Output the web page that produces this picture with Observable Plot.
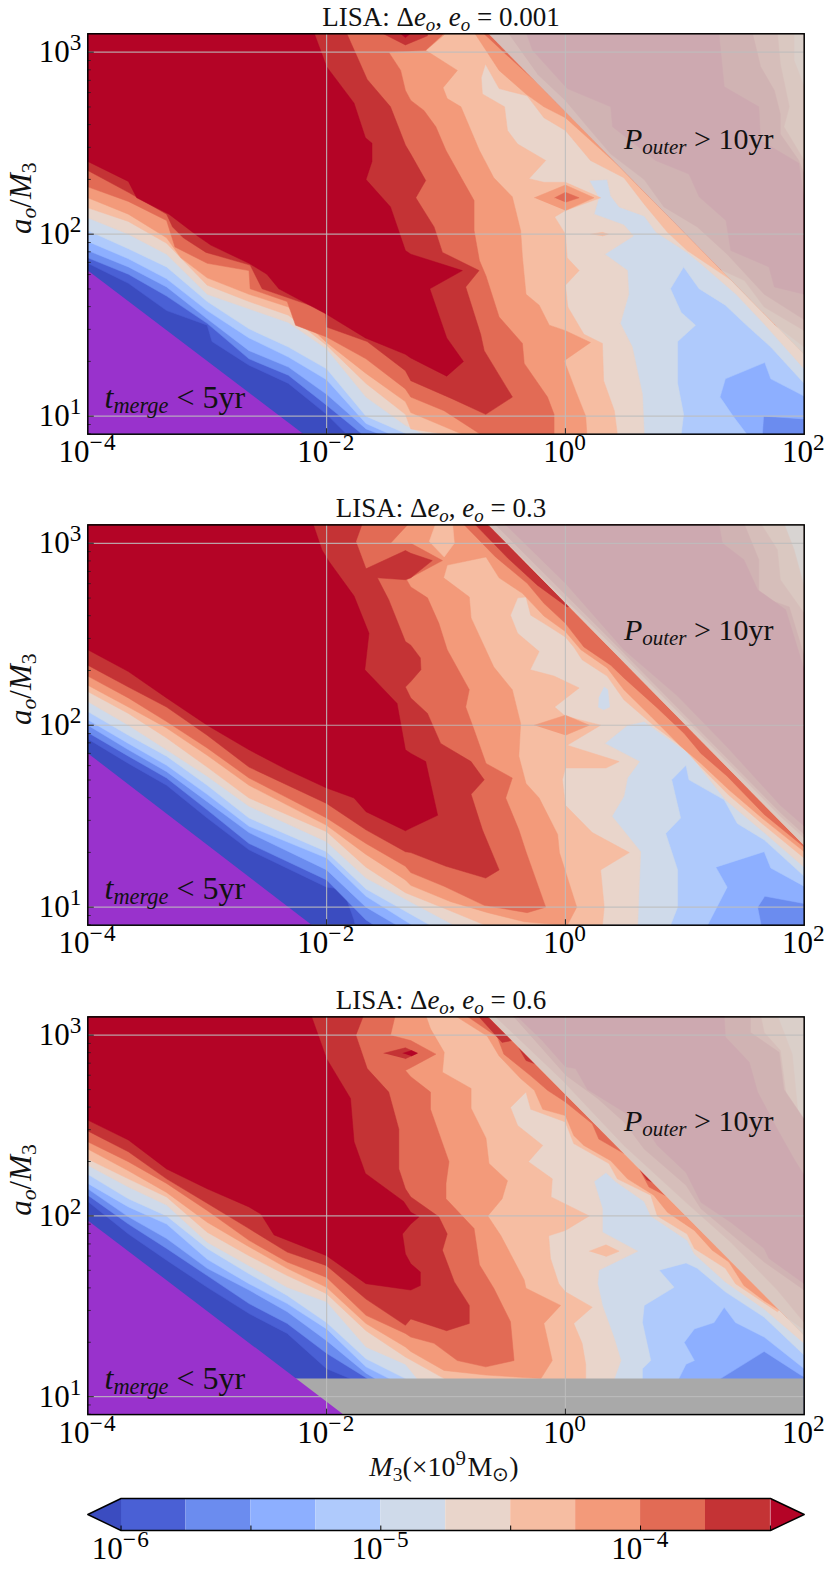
<!DOCTYPE html>
<html><head><meta charset="utf-8">
<script src="https://cdn.jsdelivr.net/npm/d3@7"></script>
<script src="https://cdn.jsdelivr.net/npm/@observablehq/plot@0.6"></script>
<style>html,body{margin:0;padding:0;background:#fff;overflow:hidden}svg{display:block}</style>
</head><body><div id="root"></div>
<script>
// Levels: 0-9 are the colour bands, 10 is the saturated "over" colour.
const underColor="#3b4cc0";
const bandColors=["#4a60d5","#6b8cef","#8dafff","#afcafc","#cfdaea","#e9d5cb","#f6bda2","#f39a7a","#e26b55","#c43335","#b40426"];
const TL=[-4,3.11],TR=[2,3.11],BR=[2,.9],BL=[-4,.9],DT=[-.643,3.101],DE=[2,1.339];
const titles=["LISA: Δ*e*_{o}, *e*_{o} = 0.001","LISA: Δ*e*_{o}, *e*_{o} = 0.3","LISA: Δ*e*_{o}, *e*_{o} = 0.6"];
const mTicks=[1e-4,1e-2,1,100], aTicks=[10,100,1000];
const aMinor=[8,9,20,30,40,50,60,70,80,90,200,300,400,500,600,700,800,900];
const cbLevels=[-6,-5.75,-5.5,-5.25,-5,-4.75,-4.5,-4.25,-4,-3.75,-3.5];
const cbTicks=[-6,-5.5,-5,-4.5,-4,-3.5], cbLabels=[1e-6,1e-5,1e-4];

// ---------- Panel 1: each list is [log10 M3, log10 a/M3] along a level boundary
const p1c0=[[-4,1.84],[-3.66,1.73],[-3.34,1.58],[-3,1.5],[-2.96,1.41],[-2.65,1.28],[-2.32,1.18],[-2,1.01],[-1.83,.9],BR,TR,TL];
const p1c1=[[-4,1.87],[-3.66,1.78],[-3.34,1.66],[-3,1.51],[-2.65,1.315],[-2.32,1.225],[-2,1.06],[-1.7,.9],BR,TR,TL];
const p1c2=[[-4,1.91],[-3.66,1.82],[-3.34,1.71],[-3,1.535],[-2.65,1.36],[-2.32,1.27],[-2,1.12],[-1.67,.93],[-1.55,.9],[1.65,.9],[1.66,1],[2,.985],TR,TL];
const p1c3=[[-4,1.96],[-3.66,1.865],[-3.34,1.755],[-3,1.58],[-2.65,1.43],[-2.32,1.325],[-2,1.2],[-1.67,.96],[-1.465,.9],[1.52,.9],[1.41,.995],[1.295,1.105],[1.34,1.205],[1.67,1.295],[1.72,1.205],[2,1.11],TR,TL];
const p1c4=[[-4,2.02],[-3.66,1.92],[-3.34,1.82],[-3,1.63],[-2.65,1.48],[-2.32,1.38],[-2,1.26],[-1.67,1],[-1.32,.9],[.97,.9],[.99,1.01],[.94,1.18],[.94,1.41],[1.09,1.5],[.97,1.57],[.88,1.7],[.99,1.82],[1.12,1.7],[1.34,1.61],[1.5,1.51],[1.72,1.38],[2,1.18],TR,TL];
const p1c5=[[-4,2.09],[-3.66,2],[-3.34,1.89],[-3,1.67],[-2.65,1.59],[-2.32,1.515],[-2,1.37],[-1.67,1.105],[-1.34,.95],[-1.18,.9],[.66,.9],[.645,1.12],[.56,1.38],[.46,1.51],[.53,1.67],[.52,1.8],[.33,1.89],[.57,1.99],[.49,2.05],[.24,2.11],[.28,2.2],[.2,2.295],[.35,2.3],[.38,2.21],[.45,2.15],[.66,2.1],[.76,2.01],[1.02,1.9],[1.13,1.84],[1.43,1.67],[1.66,1.51],[2,1.26],TR,TL];
const p1c6=[[-4,2.145],[-3.66,2.07],[-3.34,1.95],[-3,1.72],[-2.65,1.63],[-2.32,1.555],[-2,1.39],[-1.67,1.18],[-1.34,1.01],[-1.295,.93],[-1,.9],[.435,.9],[.41,1.03],[.32,1.195],[.31,1.4],[.155,1.45],[.02,1.6],[0,1.72],[.115,1.8],[.015,1.87],[0,2],[-.09,2.095],[0,2.13],[.295,2.2],[0,2.285],[-.18,2.285],[-.305,2.305],[-.165,2.405],[-.4,2.495],[-.485,2.57],[-.51,2.7],[-.695,2.77],[-.705,2.86],[-.67,2.935],[-.555,2.8],[-.32,2.76],[-.18,2.64],[0,2.57],[.21,2.405],[.49,2.31],[.66,2.165],[.855,2.01],[1.02,1.91],[1.385,1.749],TR,TL];
const p1c7=[[-4,2.2],[-3.66,2.11],[-3.34,1.98],[-3.22,1.87],[-3,1.76],[-2.65,1.67],[-2.32,1.6],[-2,1.405],[-1.67,1.235],[-1.34,1.08],[-1.295,1.02],[-.86,.9],[.18,.9],[.17,1],[.085,1.14],[-.01,1.305],[.21,1.405],[0,1.47],[-.135,1.5],[-.22,1.61],[-.33,1.67],[-.36,1.875],[-.375,2.02],[-.445,2.205],[-.6,2.31],[-.72,2.46],[-.875,2.7],[-.99,2.745],[-1.025,2.805],[-.905,2.9],[-1.17,3.01],[-1.015,3.095],[-1.015,3.11],TL];
const p1c7s=[[-.765,3.11],[-.555,2.9],[-.33,2.77],[-.18,2.7],[0,2.64],[.27,2.48],[.49,2.35],[.715,2.196],DT];
const p1c8=[[-4,2.26],[-3.66,2.18],[-3.34,2.075],[-3.27,1.93],[-3,1.84],[-2.65,1.8],[-2.64,1.7],[-2.33,1.63],[-2.26,1.5],[-2,1.435],[-1.67,1.315],[-1.34,1.15],[-1.295,1.105],[-1.016,1.03],[-.71,.9],[-.095,.9],[-.095,1.01],[-.15,1.105],[-.345,1.29],[-.36,1.4],[-.555,1.545],[-.665,1.77],[-.72,1.855],[-.765,2.02],[-.765,2.185],[-.89,2.33],[-1,2.46],[-1.085,2.59],[-1.185,2.68],[-1.295,2.735],[-1.34,2.79],[-1.38,2.9],[-1.48,3],[-1.17,3.01],[-1.03,3.095],[-1.03,3.11],TL];
const p1c8s=[[-.695,3.11],[-.5,2.99],[-.25,2.84],DT];
const p1d7=[[-.26,2.2],[0,2.27],[.24,2.2],[0,2.13]];
const p1d8=[[-.09,2.2],[0,2.23],[.115,2.2],[0,2.175]];
const p1t6=[[.21,2],[.31,2.01],[.36,2],[.31,1.99]];
const p1c9=[[-4,2.35],[-3.66,2.23],[-3.34,2.11],[-3.29,2.04],[-3.2,1.98],[-3.01,1.9],[-2.64,1.83],[-2.54,1.7],[-2.01,1.58],[-2,1.49],[-1.66,1.41],[-1.34,1.25],[-1.295,1.195],[-.946,1.095],[-.667,1.01],[-.444,1.105],[-.68,1.36],[-.71,1.45],[-.835,1.71],[-.723,1.8],[-1.03,1.9],[-1.1,2.04],[-1.253,2.2],[-1.17,2.295],[-1.295,2.44],[-1.34,2.49],[-1.465,2.7],[-1.66,2.85],[-1.836,3.11],TL];
const p1c9t=[[-1.55,3.11],[-1.34,3.04],[-1.155,3.09],[-1.155,3.11]];
const p1c10t=[[-1.395,3.11],[-1.34,3.08],[-1.285,3.11]];
const p1c10=[TL,[-2.107,3.11],[-2,2.92],[-1.77,2.72],[-1.675,2.53],[-1.62,2.5],[-1.62,2.4],[-1.67,2.3],[-1.465,2.15],[-1.34,1.91],[-1.295,1.89],[-.863,1.8],[-1.136,1.7],[-.994,1.43],[-.854,1.3],[-.994,1.22],[-1.295,1.32],[-1.34,1.34],[-1.675,1.43],[-2,1.56],[-2.4,1.7],[-2.5,1.78],[-2.65,1.84],[-2.97,1.94],[-3.08,1.99],[-3.32,2.11],[-3.59,2.2],[-3.66,2.29],[-4,2.4]];
const p1u7=[DT,[1.915,3.11],[1.915,2.955],[2,2.81],[2,1.38],[1.75,1.505]];
const p1u8=[DT,[1.775,3.11],[1.8,2.935],[1.875,2.7],[1.83,2.59],[2,2.405],[2,1.47],[1.665,1.6],[1.5,1.745],[1.3,1.806]];
const p1u9=[[-.485,3.11],[1.565,3.11],[1.635,2.92],[1.75,2.79],[1.8,2.66],[1.8,2.55],[1.955,2.405],[2,2.33],[2,1.53],[1.665,1.67],[1.355,1.89],[1.105,2.04],[.825,2.15],[.66,2.3],[.38,2.44],[.185,2.59],[0,2.735],[-.235,2.88]];
const p1u10=[[-.33,3.11],[-.275,3.01],[.015,2.8],[.38,2.7],[.395,2.59],[.755,2.405],[1.035,2.33],[1.12,2.205],[1.345,2.075],[1.385,1.91],[1.705,1.82],[1.75,1.71],[2,1.67],[2,2.185],[1.955,2.39],[1.635,2.515],[1.62,2.7],[1.33,2.81],[1.285,3.11]];
const p1merge=[[-4,1.8],[-2.19,.9],BL];

// ---------- Panel 2
const p2c0=[[-4,1.925],[-3.66,1.79],[-3.34,1.67],[-3,1.49],[-2.65,1.315],[-2,1.11],[-1.94,1.105],[-1.855,1.085],[-1.77,.93],[-1.76,.9],BR,TR,TL];
const p2c1=[[-4,1.96],[-3.66,1.83],[-3.34,1.71],[-3,1.535],[-2.65,1.35],[-2,1.15],[-1.67,.93],[-1.6,.9],BR,TR,TL];
const p2c2=[[-4,2],[-3.66,1.865],[-3.34,1.745],[-3,1.58],[-2.65,1.41],[-2,1.205],[-1.67,1],[-1.41,.9],[1.64,.9],[1.61,1],[1.67,1.06],[2,1.02],TR,TL];
const p2c3=[[-4,2.03],[-3.66,1.9],[-3.34,1.78],[-3,1.62],[-2.65,1.445],[-2,1.27],[-1.67,1.06],[-1.28,.9],[1.19,.9],[1.355,1.11],[1.26,1.22],[1.665,1.305],[1.72,1.215],[2,1.115],TR,TL];
const p2c4=[[-4,2.075],[-3.66,1.945],[-3.34,1.83],[-3,1.67],[-2.65,1.49],[-2,1.305],[-1.67,1.1],[-1.13,.9],[.88,.9],[.94,1],[.94,1.205],[.84,1.405],[.965,1.49],[.89,1.7],[1.01,1.78],[1.035,1.7],[1.33,1.59],[1.44,1.46],[1.665,1.37],[2,1.17],TR,TL];
const p2c5=[[-4,2.13],[-3.66,2],[-3.34,1.865],[-3,1.72],[-2.65,1.555],[-2,1.36],[-1.67,1.16],[-.93,.9],[.605,.9],[.63,1.305],[.39,1.5],[.49,1.61],[.52,1.71],[.62,1.8],[.33,1.9],[.52,2],[.66,2.02],[1.035,1.845],[1.34,1.59],[1.665,1.41],[2,1.22],TR,TL];
const p2i4=[[.28,2.15],[.325,2.21],[.355,2.195],[.37,2.1],[.32,2.085],[.275,2.1]];
const p2c6=[[-4,2.185],[-3.66,2.065],[-3.34,1.93],[-3,1.77],[-2.65,1.6],[-2,1.415],[-1.67,1.22],[-1.34,1.08],[-1,.99],[-.667,.9],[.31,.9],[.325,1],[.295,1.205],[.535,1.3],[.225,1.41],[0,1.56],[-.025,1.7],[0,1.765],[.34,1.765],[.45,1.8],[.015,1.89],[.295,2],[0,2.05],[-.09,2.1],[.115,2.205],[-.095,2.27],[-.295,2.305],[-.22,2.405],[-.4,2.505],[-.46,2.605],[-.4,2.7],[-.33,2.705],[-.29,2.605],[-.18,2.56],[0,2.485],[.07,2.43],[.14,2.36],[.35,2.27],[.49,2.14],[.755,1.99],[.98,1.88],[1.135,1.77],[1.37,1.615],[1.665,1.45],[2,1.27],TR,TL];
const p2c7=[[-4,2.22],[-3.66,2.1],[-3.34,1.985],[-3,1.835],[-2.65,1.67],[-2,1.45],[-1.67,1.29],[-1.34,1.15],[-1.295,1.12],[-.96,1.03],[-.65,.97],[-.345,.92],[.015,.9],[.095,1],[-.05,1.3],[-.065,1.4],[-.22,1.6],[-.33,1.68],[-.39,1.83],[-.375,2.01],[-.445,2.195],[-.6,2.32],[-.79,2.59],[-.805,2.705],[-1.02,2.81],[-.99,2.88],[-.665,2.925],[-.555,2.81],[-.36,2.725],[-.18,2.6],[0,2.515],[.13,2.415],[.35,2.315],[.49,2.195],[.715,2.05],[.965,1.885],[1.135,1.79],[1.37,1.645],[1.665,1.48],[2,1.305],TR,TL];
const p2i6=[[-1.085,3.11],[-1.14,3.01],[-1.015,2.925],[-.93,3],[-.945,3.11]];
const p2d7=[[-.26,2],[0,2.055],[.2,2],[0,1.945]];
const p2c8=[[-4,2.27],[-3.66,2.15],[-3.34,2.02],[-3,1.875],[-2.65,1.71],[-2,1.49],[-1.67,1.35],[-1.34,1.225],[-1.295,1.19],[-1.016,1.115],[-.68,1.01],[-.32,.97],[-.165,1],[-.33,1.305],[-.39,1.425],[-.5,1.6],[-.445,1.71],[-.665,1.79],[-.765,1.975],[-.835,2.1],[-.805,2.195],[-.99,2.415],[-1.06,2.56],[-1.155,2.7],[-1.295,2.76],[-1.33,2.8],[-1.03,2.905],[-1.295,3],[-1.465,3],[-1.31,3.11],TL];
const p2c8s=[[-.86,3.11],[-.585,2.925],[-.32,2.78],[-.18,2.67],[0,2.56],[.155,2.43],[.38,2.33],[.49,2.26],[.77,2.095],[.995,1.955],[1.135,1.845],[1.355,1.72],[1.665,1.51],[2,1.33],DE,DT];
const p2c9=[[-4,2.33],[-3.66,2.21],[-3.34,2.1],[-3,1.945],[-2.65,1.77],[-2,1.57],[-1.67,1.425],[-1.34,1.305],[-1.295,1.3],[-1,1.225],[-.667,1.16],[-.555,1.205],[-.695,1.425],[-.79,1.62],[-.68,1.7],[-.79,1.8],[-1.045,1.9],[-1.155,2.065],[-1.295,2.15],[-1.34,2.21],[-1.295,2.24],[-1.21,2.305],[-1.215,2.37],[-1.295,2.44],[-1.34,2.46],[-1.48,2.69],[-1.575,2.81],[-1.34,2.8],[-1.295,2.81],[-1.115,2.905],[-1.295,2.945],[-1.34,2.96],[-1.67,2.86],[-1.755,3.01],[-1.7,3.11],TL];
const p2c9s=[[-.765,3.11],[-.485,2.92],[-.235,2.77],[.015,2.65],[.03,2.652],DT];
const p2c10=[TL,[-2.115,3.11],[-2.04,2.965],[-1.98,2.9],[-1.77,2.71],[-1.645,2.505],[-1.68,2.305],[-1.41,2.12],[-1.34,1.865],[-1.295,1.845],[-1.17,1.8],[-1.07,1.505],[-1.295,1.435],[-1.34,1.42],[-1.67,1.525],[-1.77,1.6],[-2,1.655],[-2.33,1.755],[-2.65,1.865],[-3,2],[-3.34,2.15],[-3.66,2.295],[-4,2.415]];
const p2u7=[DT,[1.83,3.11],[1.915,2.965],[2,2.76],DE];
const p2u8=[DT,[1.635,3.11],[1.775,2.965],[1.8,2.8],[2,2.615],[2,1.38],[1.8,1.5],[.5,2.37]];
const p2u9=[[-.6,3.11],[1.495,3.11],[1.62,2.91],[1.62,2.71],[1.875,2.65],[2,2.38],[2,1.4],[1.8,1.52],[.5,2.39]];
const p2u10=[[-.515,3.11],[1.285,3.11],[1.315,3],[1.495,2.91],[1.61,2.745],[1.845,2.635],[2,2.305],[2,1.445],[1.8,1.56],[1.355,1.88],[.94,2.16],[.49,2.415],[.015,2.77]];
const p2merge=[[-4,1.846],[-2.12,.9],BL];

// ---------- Panel 3
const p3c0=[[-4,2.08],[-3.66,1.9],[-3.34,1.755],[-3,1.605],[-2.65,1.46],[-2.33,1.35],[-2,1.155],[-1.62,1.05],[2,1.05],TR,TL];
const p3c1=[[-4,2.115],[-3.66,1.955],[-3.34,1.82],[-3,1.67],[-2.65,1.515],[-2.33,1.405],[-2,1.24],[-1.535,1.05],[2,1.05],TR,TL];
const p3c2=[[-4,2.15],[-3.66,1.995],[-3.34,1.875],[-3,1.71],[-2.65,1.59],[-2.33,1.47],[-2,1.31],[-1.67,1.13],[-1.465,1.05],[1.3,1.05],[1.3,1.1],[1.665,1.25],[1.97,1.12],[2,1.11],TR,TL];
const p3c3=[[-4,2.18],[-3.66,2.05],[-3.34,1.955],[-3,1.76],[-2.65,1.625],[-2.33,1.515],[-2,1.375],[-1.67,1.165],[-1.325,1.05],[.95,1.05],[.95,1.1],[1.01,1.18],[1.08,1.2],[.995,1.3],[1.08,1.375],[1.245,1.41],[1.33,1.495],[1.425,1.41],[1.665,1.33],[2,1.155],TR,TL];
const p3c4=[[-4,2.23],[-3.66,2.095],[-3.34,2],[-3,1.82],[-2.65,1.68],[-2.33,1.56],[-2,1.41],[-1.67,1.21],[-1.34,1.1],[-1.24,1.05],[.645,1.05],[.645,1.155],[.715,1.2],[.645,1.41],[.66,1.505],[.91,1.605],[.785,1.7],[1.01,1.74],[1.105,1.71],[1.34,1.58],[1.665,1.44],[2,1.23],TR,TL];
const p3c5=[[-4,2.28],[-3.66,2.16],[-3.34,2.06],[-3,1.855],[-2.65,1.725],[-2.33,1.605],[-2,1.525],[-1.67,1.275],[-1.34,1.18],[-1.18,1.05],[.41,1.05],[.41,1.1],[.465,1.2],[.41,1.32],[.31,1.505],[.27,1.625],[.28,1.7],[.605,1.805],[.31,1.91],[.31,2.04],[.24,2.19],[.34,2.24],[.42,2.19],[.66,2.08],[.715,2],[1.02,1.865],[1.08,1.79],[1.34,1.635],[1.665,1.485],[2,1.295],TR,TL];
const p3i6=[[.2,1.805],[.34,1.84],[.45,1.805],[.34,1.775]];
const p3c6=[[-4,2.315],[-3.66,2.205],[-3.34,2.105],[-3,1.91],[-2.65,1.78],[-2.33,1.67],[-2,1.57],[-1.67,1.365],[-1.34,1.22],[-1.015,1.1],[-1,1.05],[.17,1.05],[.17,1.18],[.14,1.295],[.07,1.405],[.225,1.495],[0,1.58],[-.055,1.625],[-.125,1.765],[-.14,1.89],[0,1.92],[.2,2],[-.12,2.105],[-.11,2.205],[-.31,2.3],[-.19,2.39],[-.4,2.5],[-.46,2.6],[-.33,2.685],[-.29,2.59],[0,2.52],[.07,2.4],[.365,2.29],[.435,2.205],[.715,2.115],[.77,2],[1.02,1.9],[1.08,1.82],[1.34,1.71],[1.425,1.625],[1.775,1.47],[1.79,1.479],DT,TL];
const p3c7=[[-4,2.37],[-3.66,2.25],[-3.34,2.13],[-3,1.965],[-2.65,1.83],[-2.33,1.71],[-2,1.605],[-1.67,1.405],[-1.34,1.275],[-1.295,1.25],[-1.016,1.145],[-.667,1.12],[-.205,1.1],[-.11,1.2],[-.18,1.405],[-.04,1.505],[-.33,1.6],[-.345,1.645],[-.54,1.89],[-.65,2],[-.53,2.095],[-.485,2.195],[-.64,2.29],[-.665,2.43],[-.79,2.595],[-.79,2.705],[-1.03,2.795],[-1.015,2.905],[-1.13,3.035],[-1.17,3.11],TL];
const p3c7s=[[-.93,3.11],[-.655,2.995],[-.555,2.885],[-.375,2.76],[-.26,2.695],[-.19,2.59],[0,2.555],[.07,2.445],[.155,2.39],[.38,2.305],[.52,2.205],[.74,2.115],[.855,2.02],[1.08,1.92],[1.23,1.81],[1.37,1.745],[1.495,1.615],[1.665,1.53],[1.79,1.479],DT];
const p3c8=[[-4,2.41],[-3.66,2.3],[-3.34,2.18],[-3,2.03],[-2.65,1.865],[-2.33,1.745],[-2,1.66],[-1.67,1.45],[-1.34,1.35],[-1.295,1.33],[-1.1,1.295],[-.905,1.2],[-.667,1.165],[-.43,1.2],[-.46,1.415],[-.6,1.6],[-.72,1.73],[-.765,1.93],[-1,2.095],[-1,2.18],[-.975,2.3],[-1.13,2.59],[-1.13,2.685],[-1.295,2.77],[-1.34,2.805],[-1.295,2.82],[-1.085,2.895],[-1.295,2.97],[-1.465,3],[-1.425,3.11],TL];
const p3c8s=[[-.835,3.11],[-.57,2.99],[-.515,2.895],[-.29,2.775],[-.15,2.695],[0,2.63],[.225,2.51],[.28,2.425],[.49,2.346],DT];
const p3c8b=[[.62,2.26],[.7,2.16],[.84,2.112]];
const p3c9=[[-4,2.47],[-3.66,2.355],[-3.34,2.205],[-3,2.07],[-2.65,1.93],[-2.33,1.8],[-2,1.725],[-1.67,1.54],[-1.34,1.395],[-1.295,1.43],[-.995,1.365],[-.805,1.405],[-.805,1.505],[-.93,1.635],[-1.03,1.81],[-.99,1.9],[-1.06,1.995],[-1.295,2.105],[-1.34,2.15],[-1.395,2.26],[-1.395,2.48],[-1.48,2.685],[-1.66,2.815],[-1.755,3],[-1.69,3.11],TL];
const p3d9=[[-1.52,2.9],[-1.34,2.93],[-1.24,2.9],[-1.34,2.87]];
const p3d10=[[-1.36,2.9],[-1.29,2.915],[-1.24,2.9],[-1.29,2.885]];
const p3c9s=[[-.735,3.11],[-.53,2.96],[-.45,2.97],DT];
const p3c9b=[[-.39,2.93],[-.33,2.86],[-.25,2.84]];
const p3c9d=[[.63,2.25],[.68,2.2],[.73,2.186]];
const p3c10=[TL,[-2.13,3.11],[-2,2.87],[-1.8,2.65],[-1.77,2.41],[-1.675,2.235],[-1.355,2.08],[-1.295,2.02],[-1.225,1.995],[-1.295,1.955],[-1.365,1.9],[-1.34,1.79],[-1.295,1.735],[-1.215,1.69],[-1.215,1.615],[-1.295,1.59],[-1.67,1.625],[-2,1.78],[-2.44,1.895],[-2.55,2.01],[-2.65,2.05],[-3,2.15],[-3.34,2.26],[-3.66,2.42],[-4,2.53]];
const p3u7=[DT,[1.775,3.11],[1.9,2.895],[1.95,2.555],[2,2.52],[2,1.37],[1.85,1.44]];
const p3u8=[[-.6,3.11],[1.635,3.11],[1.665,3.015],[1.8,2.915],[1.845,2.685],[2,2.41],[2,1.41],[1.775,1.59],[1.385,1.855],[1.01,2.075],[.49,2.39],[-.01,2.74]];
const p3u9=[[-.445,3.11],[1.55,3.11],[1.55,3.015],[1.79,2.905],[1.83,2.7],[2,2.535],[2,1.59],[1.665,1.745],[1.495,1.84],[1.135,2.04],[1.01,2.17],[.66,2.37],[.49,2.52],[.27,2.65],[0,2.78]];
const p3u10=[[-.415,3.11],[1.33,3.11],[1.34,2.99],[1.54,2.85],[1.61,2.685],[1.775,2.48],[1.915,2.315],[2,2.225],[2,1.625],[1.705,1.765],[1.665,1.82],[1.385,1.965],[1.135,2.075],[1.01,2.24],[.77,2.39],[.715,2.445],[.49,2.575],[.185,2.7],[.085,2.815],[0,2.825],[-.18,2.96]];
const p3merge=[[-4,1.975],[-1.856,.9],BL];
const p3grey=[[-2.4,1.1],[2,1.1],BR,[-2.4,.9]];

const wholeBox=[BL,BR,TR,TL];
const outerTriangle=[DT,TR,DE];

const panels=[
 {shapes:[[0,p1c0],[1,p1c1],[2,p1c2],[3,p1c3],[4,p1c4],[5,p1c5],[6,p1c6],[7,p1c7],[7,p1c7s],[8,p1c8],[8,p1c8s],[7,p1d7],[8,p1d8],[6,p1t6],[9,p1c9],[9,p1c9t],[10,p1c10],[10,p1c10t],
          [6,outerTriangle],[7,p1u7],[8,p1u8],[9,p1u9],[10,p1u10]],merge:p1merge,h:400.4,top:33.3,bottom:57.6},
 {shapes:[[0,p2c0],[1,p2c1],[2,p2c2],[3,p2c3],[4,p2c4],[5,p2c5],[4,p2i4],[6,p2c6],[7,p2c7],[6,p2i6],[7,p2d7],[8,p2c8],[8,p2c8s],[9,p2c9],[9,p2c9s],[10,p2c10],
          [5,outerTriangle],[7,p2u7],[8,p2u8],[9,p2u9],[10,p2u10]],merge:p2merge,h:400.3,top:33.4,bottom:57.6},
 {shapes:[[0,p3c0],[1,p3c1],[2,p3c2],[3,p3c3],[4,p3c4],[5,p3c5],[6,p3i6],[6,p3c6],[7,p3c7],[7,p3c7s],[8,p3c8],[8,p3c8s],[8,p3c8b],[9,p3c9],[9,p3d9],[10,p3d10],[9,p3c9s],[9,p3c9b],[9,p3c9d],[10,p3c10],
          [6,outerTriangle],[7,p3u7],[8,p3u8],[9,p3u9],[10,p3u10]],merge:p3merge,grey:p3grey,h:397.7,top:33.4,bottom:71.3}
];

const rows=pts=>pts.map(p=>({M:10**p[0],a:10**p[1]}));
const serif='"Liberation Serif",serif';
const expFmt=d=>`10^{${Math.log10(d)<0?"−":""}${Math.abs(Math.round(Math.log10(d)))}}`;
const tipY=10**(.901+5.5/182), minorX=10**(-4+3.5/119.4), majorX=10**(-4+6.5/119.4);

function rich(svg){
  svg.querySelectorAll("text").forEach(t=>{
    const s=t.textContent;
    if(!/[*_^]/.test(s)) return;
    const fs=parseFloat(getComputedStyle(t).fontSize);
    t.textContent="";
    s.split(/(\*[^*]+\*|_\{[^}]+\}|\^\{[^}]+\})/).filter(x=>x).forEach(tok=>{
      const ts=document.createElementNS("http://www.w3.org/2000/svg","tspan");
      let txt=tok;
      if(tok[0]==="*"){txt=tok.slice(1,-1);ts.setAttribute("font-style","italic");}
      else if(tok[0]==="_"){txt=tok.slice(2,-1);ts.style.fontSize=(fs*.7)+"px";ts.style.baselineShift=(-fs*.17)+"px";if(/[a-z]/.test(txt))ts.setAttribute("font-style","italic");}
      else if(tok[0]==="^"){txt=tok.slice(2,-1);ts.style.fontSize=(fs*.75)+"px";ts.style.baselineShift=(fs*.38)+"px";ts.style.letterSpacing=(fs*.05)+"px";}
      ts.textContent=txt;t.appendChild(ts);
    });
  });
}

const root=document.getElementById("root");
panels.forEach((p,i)=>{
  const marks=[Plot.line(rows(wholeBox),{x:"M",y:"a",fill:underColor,clip:true})];
  p.shapes.forEach(([lev,pts])=>marks.push(Plot.line(rows(pts),{x:"M",y:"a",fill:bandColors[lev],stroke:bandColors[lev],strokeWidth:.5,clip:true})));
  marks.push(Plot.line(rows(outerTriangle),{x:"M",y:"a",fill:"lightgray",fillOpacity:.8,clip:true}));
  if(p.grey) marks.push(Plot.line(rows(p.grey),{x:"M",y:"a",fill:"darkgray",clip:true}));
  marks.push(Plot.line(rows(p.merge),{x:"M",y:"a",fill:"darkorchid",clip:true}));
  marks.push(Plot.ruleX([1e-2,1],{stroke:"#bdbdbd",strokeOpacity:.85,strokeWidth:1.2}));
  marks.push(Plot.ruleY(aTicks,{stroke:"#bdbdbd",strokeOpacity:.85,strokeWidth:1.2}));
  marks.push(Plot.ruleY(aMinor,{x1:1e-4,x2:minorX,stroke:"#222",strokeWidth:.8}));
  marks.push(Plot.ruleY(aTicks,{x1:1e-4,x2:majorX,stroke:"#222",strokeWidth:1}));
  marks.push(Plot.ruleX([1e-2,1],{y1:10**.901,y2:tipY,stroke:"#222",strokeWidth:1}));
  marks.push(Plot.frame({stroke:"black",strokeWidth:1.5}));
  marks.push(Plot.axisX({ticks:mTicks,tickFormat:expFmt,tickSize:0,tickPadding:6,fontSize:31,label:null}));
  marks.push(Plot.axisY({ticks:aTicks,tickFormat:expFmt,tickSize:0,tickPadding:5,fontSize:31,label:null}));
  marks.push(Plot.text([titles[i]],{frameAnchor:"top",lineAnchor:"bottom",dy:-8,dx:-5,fontSize:27,fill:"#111"}));
  marks.push(Plot.text(["*a*_{o}/*M*_{3}"],{frameAnchor:"left",rotate:-90,dx:-67,fontSize:31,fill:"#111"}));
  marks.push(Plot.text(["*t*_{merge} < 5yr"],{x:10**-3.86,y:10,textAnchor:"start",fontSize:32,dy:-8,lineAnchor:"bottom",fill:"#111"}));
  marks.push(Plot.text(["*P*_{outer} > 10yr"],{x:10**.49,y:10**2.523,textAnchor:"start",fontSize:30,fill:"#111"}));
  if(i==2) marks.push(Plot.text(["*M*_{3}(×10^{9}M_{⊙})"],{frameAnchor:"bottom",lineAnchor:"top",dy:42,fontSize:28,dx:-2,fill:"#111"}));
  const svg=Plot.plot({width:830,height:p.top+p.h+p.bottom,marginLeft:87.3,marginRight:26.3,marginTop:p.top,marginBottom:p.bottom,
    style:{fontFamily:serif,background:"white"},
    x:{type:"log",domain:[1e-4,100]},y:{type:"log",domain:[10**.901,10**3.101]},marks});
  root.appendChild(svg);
  rich(svg);
});

// ---------- Colour bar
const segs=d3.pairs(cbLevels).map(([a,b],i)=>({x1:10**a,x2:10**b,c:bandColors[i]}));
const L=-6.128,R=-3.37;
const cbarSvg=Plot.plot({width:830,height:91,marginLeft:87.3,marginRight:26.3,marginTop:13,marginBottom:46,
  style:{fontFamily:serif,background:"white"},
  x:{type:"log",domain:[10**L,10**R]},y:{domain:[0,1],axis:null},
  marks:[
    Plot.rect(segs,{x1:"x1",x2:"x2",y1:0,y2:1,fill:"c"}),
    Plot.line([{x:10**L,y:.5},{x:1e-6,y:1},{x:1e-6,y:0}],{x:"x",y:"y",fill:underColor}),
    Plot.line([{x:10**R,y:.5},{x:10**-3.5,y:1},{x:10**-3.5,y:0}],{x:"x",y:"y",fill:bandColors[10]}),
    Plot.line([{x:10**L,y:.5},{x:1e-6,y:1},{x:10**-3.5,y:1},{x:10**R,y:.5},{x:10**-3.5,y:0},{x:1e-6,y:0},{x:10**L,y:.5}],{x:"x",y:"y",stroke:"black",strokeWidth:1.4}),
    Plot.ruleX(cbTicks.map(d=>10**d),{y1:0,y2:.14,stroke:"black",strokeWidth:1}),
    Plot.axisX({ticks:cbLabels,tickFormat:expFmt,tickSize:0,tickPadding:6,fontSize:31,label:null})
  ]});
root.appendChild(cbarSvg);
rich(cbarSvg);
</script></body></html>
